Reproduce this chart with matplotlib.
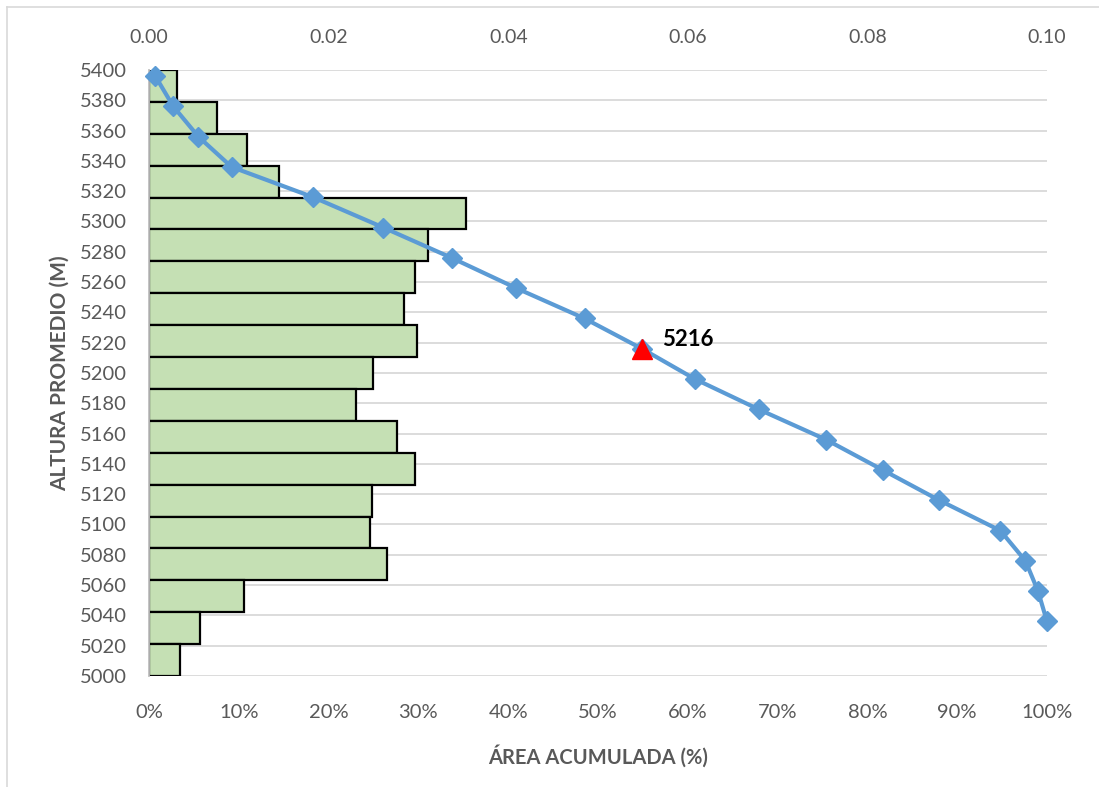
import matplotlib
matplotlib.use("Agg")
import matplotlib.pyplot as plt
from matplotlib.lines import Line2D
import numpy as np

plt.rcParams['font.family'] = ['Lato', 'DejaVu Sans']

# Frequency bars (top axis), from highest elevation band to lowest
bar_freq = [0.0031, 0.0076, 0.0109, 0.0145, 0.0353, 0.0311, 0.0296, 0.0284,
            0.0298, 0.0249, 0.0231, 0.0276, 0.0296, 0.0248, 0.0246, 0.0265,
            0.0106, 0.0057, 0.0035]

# Hypsometric curve (bottom axis, %)
curve_elev = [5396, 5376, 5356, 5336, 5316, 5296, 5276, 5256, 5236, 5216,
              5196, 5176, 5156, 5136, 5116, 5096, 5076, 5056, 5036]
curve_pct = [0.7, 2.7, 5.5, 9.2, 18.3, 26.1, 33.7, 40.9, 48.5, 54.9,
             60.8, 67.9, 75.4, 81.7, 88.0, 94.8, 97.6, 99.0, 100.0]

median_elev = 5216
median_pct = 54.9
median_label = "5216"

y_min, y_max, y_step = 5000, 5400, 20
top_ticks = [0.00, 0.02, 0.04, 0.06, 0.08, 0.10]
bottom_ticks = [0, 10, 20, 30, 40, 50, 60, 70, 80, 90, 100]

gray = '#595959'

fig = plt.figure(figsize=(10.99, 7.87), dpi=100)
ax = fig.add_axes([149/1099, 1-676/787, (1047-149)/1099, (676-70)/787])

n = len(bar_freq)
h = (y_max - y_min) / n
bottoms = [y_max - (i + 1) * h for i in range(n)]
ax.barh(bottoms, bar_freq, height=h, align='edge', color='#C5E0B4',
        edgecolor='black', linewidth=1.6, zorder=2)
ax.set_xlim(0, 0.10)
ax.set_ylim(y_min, y_max)
ax.set_yticks(np.arange(y_min, y_max + 1, y_step))
ax.yaxis.grid(True, color='#D9D9D9', linewidth=1.3, zorder=0)
ax.set_axisbelow(True)
ax.tick_params(axis='y', which='both', length=0, pad=16, labelsize=14.5,
               labelcolor=gray)
for s in ['top', 'right', 'bottom']:
    ax.spines[s].set_visible(False)
ax.spines['left'].set_color('#BFBFBF')
ax.spines['left'].set_linewidth(1.3)
ax.set_ylabel("ALTURA PROMEDIO (M)", fontsize=15, fontweight='bold',
              color=gray, labelpad=7)

ax2 = ax.twiny()
ax2.plot(curve_pct, curve_elev, color='#5B9BD5', linewidth=3, marker='D',
         markersize=10, zorder=3, clip_on=False)
ax2.plot([median_pct], [median_elev], marker='^', color='#FF0000',
         markersize=15, linestyle='none', zorder=4)
ax2.text(median_pct + 2.2, median_elev + 6, median_label, fontsize=16,
         fontweight='bold', color='black', va='center', ha='left', zorder=5)
ax2.set_xlim(0, 100)
ax2.set_xticks(bottom_ticks)
ax2.set_xticklabels([f"{t}%" for t in bottom_ticks])
ax2.xaxis.tick_bottom()
ax2.xaxis.set_label_position('bottom')
ax2.tick_params(axis='x', length=0, pad=20, labelsize=14.5, labelcolor=gray)
for s in ['top', 'right', 'bottom', 'left']:
    ax2.spines[s].set_visible(False)
ax2.set_xlabel("ÁREA ACUMULADA (%)", fontsize=14.5, fontweight='bold',
               color=gray, labelpad=17)

# top axis for the bars (set after twiny, which resets tick positions)
ax.xaxis.tick_top()
ax.set_xticks(top_ticks)
ax.set_xticklabels([f"{t:.2f}" for t in top_ticks])
ax.tick_params(axis='x', which='both', length=0, pad=17, labelsize=14,
               labelcolor=gray, labeltop=True, labelbottom=False)

# chart-area border (left and top edges visible)
fig.add_artist(Line2D([7/1099, 7/1099], [0, 1-7/787], color='#D9D9D9',
                      linewidth=1.2, transform=fig.transFigure))
fig.add_artist(Line2D([7/1099, 1], [1-7/787, 1-7/787], color='#D9D9D9',
                      linewidth=1.2, transform=fig.transFigure))

fig.savefig("out.png", dpi=100)
